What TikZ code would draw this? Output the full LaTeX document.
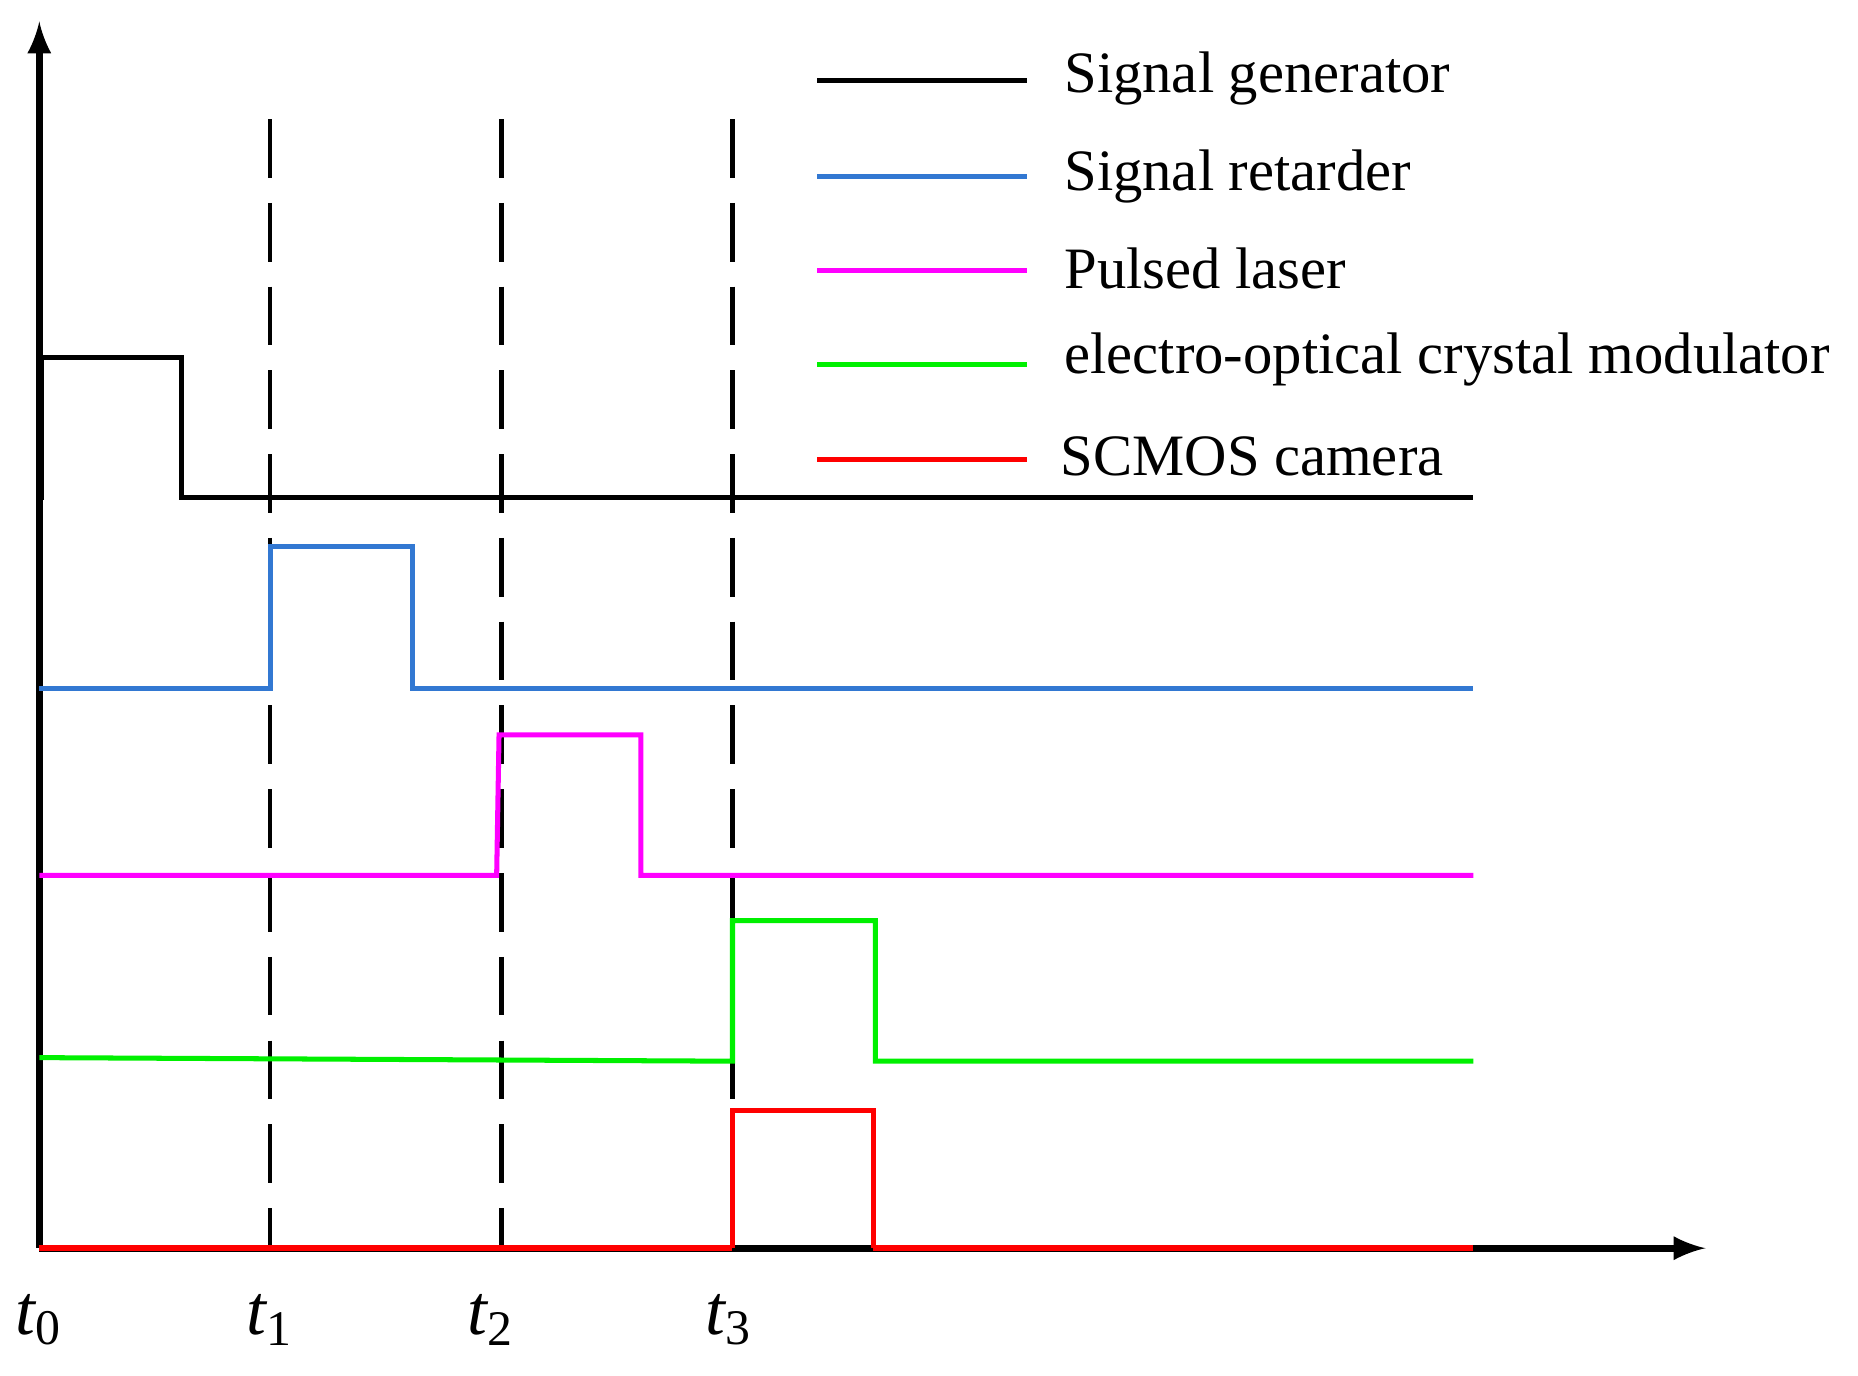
\documentclass[tikz,border=0pt]{standalone}
\usepackage{fontspec}
\setmainfont{Liberation Serif}
\begin{document}
\begin{tikzpicture}[x=0.01cm,y=-0.01cm,
  sig/.style={line width=1.2pt,line join=miter},
  vdash/.style={line width=1pt,dash pattern=on 14pt off 6pt},
  lbl/.style={anchor=west,font=\fontsize{14}{16}\selectfont,inner sep=0pt},
  tl/.style={font=\fontsize{17}{19}\selectfont\itshape}]
\definecolor{cblue}{RGB}{50,120,210}
\definecolor{cmag}{RGB}{255,0,255}
\definecolor{cgreen}{RGB}{0,240,0}
\definecolor{cred}{RGB}{255,0,0}
\useasboundingbox (0,0) rectangle (1560,1155);
% dashed
\foreach \x in {227,421,615} \draw[vdash] (\x,100) -- (\x,1048);
% axes
\coordinate (o) at (33,1048);
\coordinate (ytop) at (33,18);
\coordinate (xend) at (1432,1048);
\draw[line width=1.6pt,-latex] (o) -- (ytop);
\draw[line width=1.6pt,-latex] (o) -- (xend);
% signals
\draw[sig,black] (35,420) -- (35,300) -- (152,300) -- (152,418) -- (1237,418);
\draw[sig,cblue] (33,578) -- (227,578) -- (227,459) -- (346,459) -- (346,578) -- (1237,578);
\draw[sig,cmag] (33,735) -- (417,735) -- (419,617) -- (538,617) -- (538,735) -- (1237,735);
\draw[sig,cgreen] (33,888) -- (615,891) -- (615,773) -- (735,773) -- (735,891) -- (1237,891);
\draw[sig,cred,line width=1.5pt] (33,1048) -- (615,1048);
\draw[sig,cred] (615,1048) -- (615,932) -- (733,932) -- (733,1048);
\draw[sig,cred,line width=1.5pt] (733,1048) -- (1237,1048);
% time labels
\node[tl] (t0) at (33,1108) {t\textsubscript{\upshape 0}};
\node[tl] (t1) at (227,1108) {t\textsubscript{\upshape 1}};
\node[tl] (t2) at (412,1108) {t\textsubscript{\upshape 2}};
\node[tl] (t3) at (612,1108) {t\textsubscript{\upshape 3}};
% legend
\draw[sig,black] (686,68) -- (862,68);
\draw[sig,cblue] (686,148) -- (862,148);
\draw[sig,cmag] (686,227) -- (862,227);
\draw[sig,cgreen] (686,306) -- (862,306);
\draw[sig,cred] (686,386) -- (862,386);
\node[lbl] (l1) at (893,66) {Signal generator};
\node[lbl] (l2) at (893,148) {Signal retarder};
\node[lbl] (l3) at (893,225) {Pulsed laser};
\node[lbl] (l4) at (893,302) {electro-optical crystal modulator};
\node[lbl] (l5) at (890,383) {SCMOS camera};
\end{tikzpicture}
\end{document}
